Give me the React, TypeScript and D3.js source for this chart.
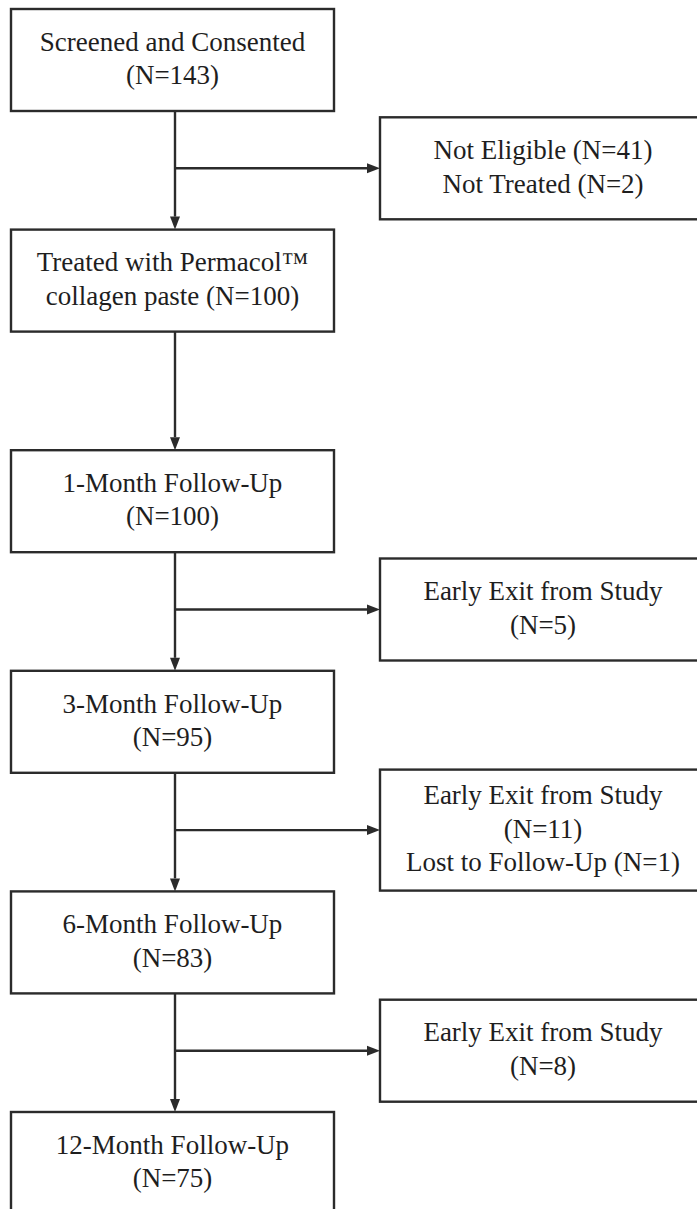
import React from "react";
import * as d3 from "d3";

// main column stages
const stageTitles = [
  "Screened and Consented",
  "Treated with Permacol™",
  "1-Month Follow-Up",
  "3-Month Follow-Up",
  "6-Month Follow-Up",
  "12-Month Follow-Up",
];
const stageLines2 = ["(N=143)", "collagen paste (N=100)", "(N=100)", "(N=95)", "(N=83)", "(N=75)"];

// side boxes: which stage they branch from, and their text lines
const exitAfter = [0, 2, 3, 4];
const exitTexts = [
  ["Not Eligible (N=41)", "Not Treated (N=2)"],
  ["Early Exit from Study", "(N=5)"],
  ["Early Exit from Study", "(N=11)", "Lost to Follow-Up (N=1)"],
  ["Early Exit from Study", "(N=8)"],
];

const W = 697;
const H = 1209;
const FONT = "'Liberation Serif', 'Times New Roman', serif";
const INK = "#2b2b2b";
const TXT = "#1e1e1e";

const BoxText = ({ cx, cy, lines }) => {
  const lh = 33.5;
  const y0 = cy - ((lines.length - 1) * lh) / 2 + 7.5;
  return (
    <text x={cx} textAnchor="middle" fontFamily={FONT} fontSize={27} fill={TXT}>
      {lines.map((l, i) => (
        <tspan key={i} x={cx} y={y0 + i * lh}>
          {l}
        </tspan>
      ))}
    </text>
  );
};

export default function App() {
  const boxH = 102;
  const y = d3.scaleLinear().domain([0, stageTitles.length - 1]).range([9, 1112]);
  const x = d3.scaleLinear().domain([0, 1]).range([11, 334]); // left column
  const xr = d3.scaleLinear().domain([0, 1]).range([380, 702]); // side column
  const trunkX = 175;
  const ah = 13;
  const aw = 5;
  const sw = 2.4;

  const stages = stageTitles.map((t, i) => ({ title: t, sub: stageLines2[i], top: y(i) }));

  const exits = exitAfter.map((s, i) => {
    const lines = exitTexts[i];
    const h = boxH + (lines.length - 2) * 19;
    const by = (y(s) + boxH + y(s + 1)) / 2 - 2;
    return { lines, h, by, top: by - h / 2 };
  });

  return (
    <svg
      width={W}
      height={H}
      style={{ position: "absolute", left: 0, top: 0, background: "#fff" }}
    >
      {/* trunk connectors */}
      {stages.slice(0, -1).map((s, i) => {
        const y1 = s.top + boxH;
        const y2 = y(i + 1);
        return (
          <g key={"c" + i}>
            <line x1={trunkX} x2={trunkX} y1={y1} y2={y2 - ah} stroke={INK} strokeWidth={sw} />
            <path
              d={`M${trunkX - aw},${y2 - ah}L${trunkX + aw},${y2 - ah}L${trunkX},${y2}Z`}
              fill={INK}
            />
          </g>
        );
      })}

      {/* side branches */}
      {exits.map((e, i) => (
        <g key={"e" + i}>
          <line x1={trunkX} x2={xr(0) - ah} y1={e.by} y2={e.by} stroke={INK} strokeWidth={sw} />
          <path
            d={`M${xr(0) - ah},${e.by - aw}L${xr(0) - ah},${e.by + aw}L${xr(0)},${e.by}Z`}
            fill={INK}
          />
          <rect
            x={xr(0)}
            y={e.top}
            width={xr(1) - xr(0)}
            height={e.h}
            fill="#fff"
            stroke={INK}
            strokeWidth={sw}
          />
          <BoxText cx={(xr(0) + xr(1)) / 2 + 2} cy={e.by} lines={e.lines} />
        </g>
      ))}

      {/* main boxes */}
      {stages.map((s, i) => (
        <g key={"s" + i}>
          <rect
            x={x(0)}
            y={s.top}
            width={x(1) - x(0)}
            height={boxH}
            fill="#fff"
            stroke={INK}
            strokeWidth={sw}
          />
          <BoxText cx={(x(0) + x(1)) / 2} cy={s.top + boxH / 2} lines={[s.title, s.sub]} />
        </g>
      ))}
    </svg>
  );
}
